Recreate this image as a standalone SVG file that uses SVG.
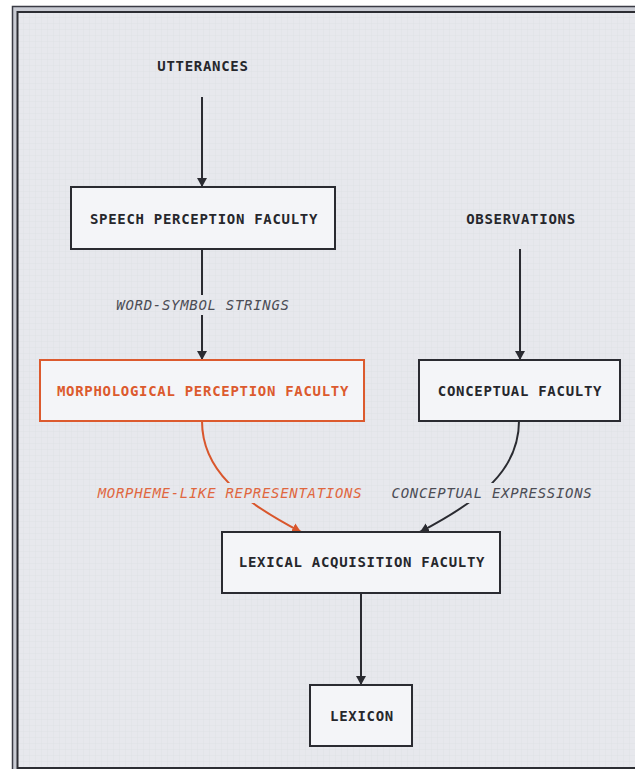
<svg xmlns="http://www.w3.org/2000/svg" width="635" height="769" viewBox="0 0 635 769">
<defs>
<pattern id="grid" width="6" height="6" patternUnits="userSpaceOnUse">
<rect width="6" height="6" fill="#e7e8ed"/>
<path d="M6,0 V6 M0,6 H6" stroke="#dcdde3" stroke-width="0.6" fill="none"/>
</pattern>
<marker id="ah" markerUnits="userSpaceOnUse" markerWidth="10" markerHeight="10" refX="9" refY="5" orient="auto">
<path d="M0,0 L9,5 L0,10 z" fill="#2a2b31"/>
</marker>
<marker id="aho" markerUnits="userSpaceOnUse" markerWidth="10" markerHeight="10" refX="9" refY="5" orient="auto">
<path d="M0,0 L9,5 L0,10 z" fill="#d9562c"/>
</marker>
<style>
.box{fill:#f4f5f8;stroke:#2a2b31;stroke-width:2}
.boxo{fill:#f4f5f8;stroke:#dc5a2e;stroke-width:2}
.t{font-family:"DejaVu Sans Mono","Liberation Mono",monospace;font-weight:bold;font-size:14px;letter-spacing:0.7px;fill:#26272c;text-anchor:middle}
.to{fill:#dc5a2e}
.lab{font-family:"DejaVu Sans Mono","Liberation Mono",monospace;font-style:italic;font-size:14px;letter-spacing:0.7px;fill:#4c4d55;text-anchor:middle}
.labo{fill:#e0673f}
.c{fill:none;stroke:#2a2b31;stroke-width:2}
.co{fill:none;stroke:#d9562c;stroke-width:2}
.lbg{fill:url(#grid)}
</style>
</defs>
<rect x="12.5" y="6.5" width="640" height="780" fill="#c9cbd3" stroke="#3a3b44" stroke-width="1.5"/>
<rect x="17.5" y="12" width="640" height="756" fill="url(#grid)" stroke="#2c2d33" stroke-width="2"/>

<g id="connectors">
<line class="c" x1="202" y1="97" x2="202" y2="187" marker-end="url(#ah)"/>
<line class="c" x1="202" y1="249" x2="202" y2="360" marker-end="url(#ah)"/>
<line class="c" x1="520" y1="249" x2="520" y2="360" marker-end="url(#ah)"/>
<path class="co" d="M202,421 C202,470 240,500 301,532" marker-end="url(#aho)"/>
<path class="c" d="M519,421 C519,470 481,500 420,532" marker-end="url(#ah)"/>
<line class="c" x1="361" y1="593" x2="361" y2="685" marker-end="url(#ah)"/>
<rect class="lbg" x="110" y="295" width="184" height="20"/>
<text class="lab" x="203" y="310">WORD-SYMBOL STRINGS</text>
<rect class="lbg" x="92" y="483" width="276" height="20"/>
<text class="lab labo" x="230" y="498">MORPHEME-LIKE REPRESENTATIONS</text>
<rect class="lbg" x="386" y="483" width="210" height="20"/>
<text class="lab" x="492" y="498">CONCEPTUAL EXPRESSIONS</text>
</g>

<g id="utterances">
<text class="t" x="203" y="71">UTTERANCES</text>
</g>
<g id="observations">
<text class="t" x="521" y="224">OBSERVATIONS</text>
</g>
<g id="speech">
<rect class="box" x="71" y="187" width="264" height="62"/>
<text class="t" x="204" y="223.5">SPEECH PERCEPTION FACULTY</text>
</g>
<g id="morph">
<rect class="boxo" x="40" y="360" width="324" height="61"/>
<text class="t to" x="203" y="396">MORPHOLOGICAL PERCEPTION FACULTY</text>
</g>
<g id="conceptual">
<rect class="box" x="419" y="360" width="201" height="61"/>
<text class="t" x="520" y="396">CONCEPTUAL FACULTY</text>
</g>
<g id="lexical">
<rect class="box" x="222" y="532" width="278" height="61"/>
<text class="t" x="362" y="567">LEXICAL ACQUISITION FACULTY</text>
</g>
<g id="lexicon">
<rect class="box" x="310" y="685" width="102" height="61"/>
<text class="t" x="362" y="721">LEXICON</text>
</g>
</svg>
